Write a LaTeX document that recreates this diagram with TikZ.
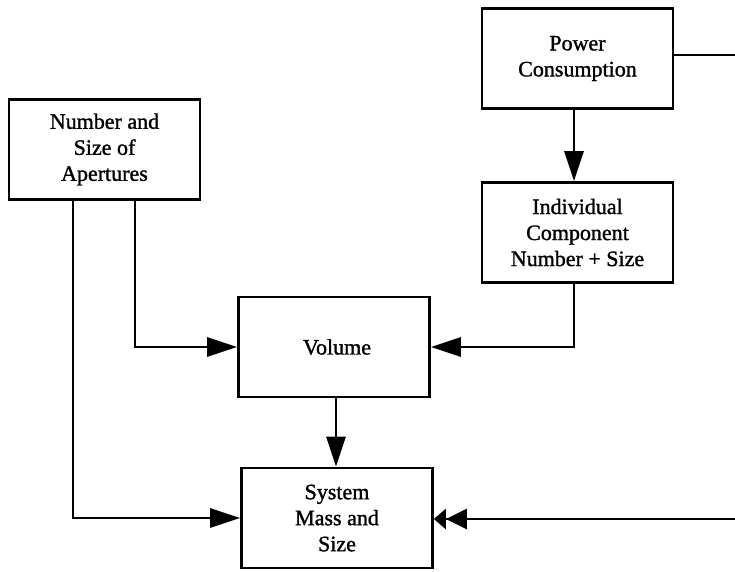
\documentclass[tikz,border=0pt]{standalone}
\usepackage{fontspec}
\setmainfont{Liberation Serif}
\newfontfamily\labelfont{Liberation Serif}[FakeBold=1.3]
\usetikzlibrary{arrows.meta}
\begin{document}
\begin{tikzpicture}[x=1pt,y=-1pt,
  blk/.style={draw, line width=2.7pt, minimum width=191pt, minimum height=100pt,
    align=center, inner sep=0pt, font=\labelfont\fontsize{22}{26}\selectfont},
  link/.style={line width=2.7pt},
  tip/.style={-{Triangle[length=30pt,width=19pt]}},
  dtip/.style={-{Triangle[length=21pt,width=20pt]Triangle[length=12pt,width=20pt]}}
]
\useasboundingbox (0,0) rectangle (735,571);

% blocks
\node[blk] (pow) at (577.5,58.5) {Power\\Consumption};
\node[blk] (num) at (104.5,149.5) {Number and\\Size of\\Apertures};
\node[blk] (ind) at (577.5,232.5) {Individual\\Component\\Number + Size};
\node[blk] (vol) at (334,347) {\hspace*{6pt}Volume};
\node[blk] (sys) at (337,518) {System\\Mass and\\Size};

% free ends at the right margin
\coordinate (outA) at (735,55);
\coordinate (outB) at (735,519);

% connectors
\draw[link] (pow.east |- outA) -- (outA);
\draw[link,tip] ([xshift=-3.5pt]pow.south) -- ([xshift=-3.5pt]ind.north);
\draw[link,tip] ([xshift=-3.5pt]ind.south) |- (vol.east);
\draw[link,tip] ([xshift=30.5pt]num.south) |- (vol.west);
\draw[link,tip] ([xshift=-31.5pt]num.south) |- (sys.west);
\draw[link,tip] ([xshift=2pt]vol.south) -- ([xshift=2pt]vol.south |- sys.north);
\draw[link,dtip] (outB) -- (sys.east |- outB);
\end{tikzpicture}
\end{document}
